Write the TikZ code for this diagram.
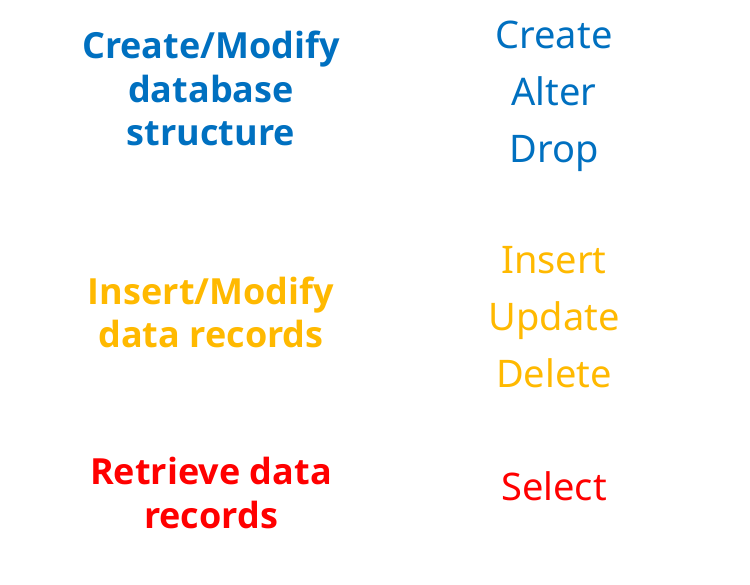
\documentclass[tikz,border=0pt]{standalone}
\usepackage{fontspec}
\setmainfont{Noto Sans}
\newfontfamily\lblfont{Open Sans}
\definecolor{dblue}{HTML}{0070C0}
\definecolor{dgold}{HTML}{FFB900}
\definecolor{dred}{HTML}{FF0000}
\begin{document}
\begin{tikzpicture}[x=1pt,y=1pt,
  lbl/.style={anchor=base,inner sep=0pt,font=\lblfont\bfseries\fontsize{36}{40}\selectfont},
  cmd/.style={anchor=base,inner sep=0pt,font=\fontsize{38}{44}\selectfont}]
\fill[white] (0,0) rectangle (750,584);
\useasboundingbox (0,0) rectangle (750,584);
% left labels
\node[lbl,dblue] (l1) at (211,584-59) {Create/Modify};
\node[lbl,dblue] (l2) at (211,584-103) {database};
\node[lbl,dblue] (l3) at (211,584-146) {structure};
\node[lbl,dgold] (l4) at (211,584-305) {Insert/Modify};
\node[lbl,dgold] (l5) at (211,584-348) {data records};
\node[lbl,dred] (l6) at (211,584-485) {Retrieve data};
\node[lbl,dred] (l7) at (211,584-528) {records};
% right commands
\node[cmd,dblue] (c1) at (554,584-49) {Create};
\node[cmd,dblue] (c2) at (554,584-106) {Alter};
\node[cmd,dblue] (c3) at (554,584-163) {Drop};
\node[cmd,dgold] (c4) at (554,584-274) {Insert};
\node[cmd,dgold] (c5) at (554,584-331) {Update};
\node[cmd,dgold] (c6) at (554,584-388) {Delete};
\node[cmd,dred] (c7) at (554,584-501) {Select};
\end{tikzpicture}
\end{document}
